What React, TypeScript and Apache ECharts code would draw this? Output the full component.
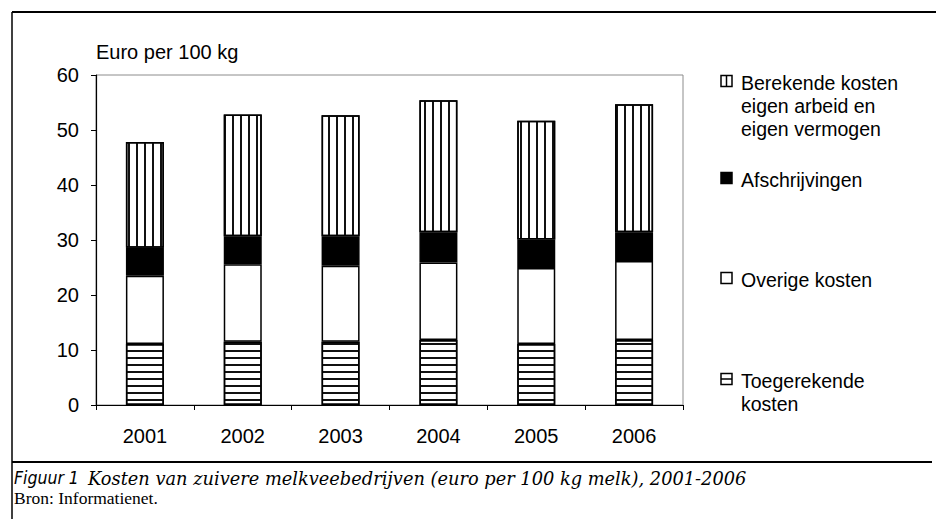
import React, { useEffect, useRef } from "react";
import * as echarts from "echarts";

const years = ["2001", "2002", "2003", "2004", "2005", "2006"];
const toegerekende = [11.1, 11.5, 11.5, 11.8, 11.1, 11.8];
const overige = [12.4, 14.1, 13.8, 14.1, 13.8, 14.4];
const afschrijvingen = [5.1, 5.1, 5.4, 5.5, 5.2, 5.2];
const berekende = [19.2, 22.1, 22.0, 24.0, 21.6, 23.3];

const yTicks = { min: 0, max: 60, interval: 10 };
const axisName = "Euro per 100 kg";
const legendLabels = [
  "Berekende kosten\neigen arbeid en\neigen vermogen",
  "Afschrijvingen",
  "Overige kosten",
  "Toegerekende\nkosten",
];
const seriesNames = ["Toegerekende kosten", "Overige kosten", "Afschrijvingen", "Berekende kosten eigen arbeid en eigen vermogen"];
const captionLabel = "Figuur 1";
const captionText = "Kosten van zuivere melkveebedrijven (euro per 100 kg melk), 2001-2006";
const sourceText = "Bron: Informatienet.";

const SANS = "'Liberation Sans', Arial, Helvetica, sans-serif";

export default function App() {
  const ref = useRef<HTMLDivElement>(null);

  useEffect(() => {
    document.body.style.margin = "0";
    if (!ref.current) return;
    const chart = echarts.init(ref.current, undefined, { renderer: "svg" });

    const border = { borderColor: "#000", borderWidth: 1.5 };
    const hStripes = {
      symbol: "rect",
      symbolSize: 1,
      dashArrayX: [1, 0],
      dashArrayY: [2, 5],
      rotation: 0,
      color: "#111",
    };
    const vStripes = {
      symbol: "rect",
      symbolSize: 1,
      dashArrayX: [2, 6],
      dashArrayY: [1, 0],
      rotation: 0,
      color: "#111",
    };

    const legendY = [83, 180, 280, 381];
    const graphic: any[] = [
      { type: "line", shape: { x1: 12, y1: 12, x2: 936, y2: 12 }, style: { stroke: "#000", lineWidth: 2 } },
      { type: "line", shape: { x1: 12, y1: 12, x2: 12, y2: 519 }, style: { stroke: "#000", lineWidth: 1.5 } },
      { type: "line", shape: { x1: 12, y1: 462, x2: 932, y2: 462 }, style: { stroke: "#000", lineWidth: 2 } },
    ];
    legendLabels.forEach((label, i) => {
      const cy = legendY[i];
      const x0 = 721, s = 11, y0 = cy - 2 - s / 2;
      graphic.push({
        type: "rect",
        shape: { x: x0, y: y0, width: s, height: s },
        style: { fill: i === 1 ? "#000" : "#fff", stroke: "#000", lineWidth: 1.5 },
      });
      if (i === 0) {
        graphic.push({ type: "line", shape: { x1: x0 + s / 2, y1: y0, x2: x0 + s / 2, y2: y0 + s }, style: { stroke: "#000", lineWidth: 1.5 } });
      }
      if (i === 3) {
        graphic.push({ type: "line", shape: { x1: x0, y1: y0 + s / 2, x2: x0 + s, y2: y0 + s / 2 }, style: { stroke: "#000", lineWidth: 1.5 } });
      }
      graphic.push({
        type: "text",
        x: 741,
        y: cy - 11.5,
        style: {
          text: label,
          fontSize: 19.5,
          fontFamily: SANS,
          fill: "#000",
          textAlign: "left",
          textVerticalAlign: "top",
          lineHeight: 23,
        },
      });
    });
    graphic.push({
      type: "text",
      x: 14,
      y: 478,
      style: {
        text: captionLabel,
        fontSize: 17.5,
        fontStyle: "italic",
        fontFamily: "'Liberation Sans Narrow', 'DejaVu Sans Condensed', 'Liberation Sans', sans-serif",
        fill: "#000",
        textAlign: "left",
        textVerticalAlign: "middle",
      },
    });
    graphic.push({
      type: "text",
      x: 88,
      y: 478,
      style: {
        text: captionText,
        fontSize: 17.8,
        fontStyle: "italic",
        fontFamily: "'DejaVu Serif', serif",
        fill: "#000",
        textAlign: "left",
        textVerticalAlign: "middle",
      },
    });
    graphic.push({
      type: "text",
      x: 14,
      y: 498,
      style: {
        text: sourceText,
        fontSize: 17.5,
        fontFamily: "'Liberation Serif', 'Times New Roman', serif",
        fill: "#000",
        textAlign: "left",
        textVerticalAlign: "middle",
      },
    });

    const mk = (name: string, data: number[], color: string, decal?: any) => ({
      name,
      type: "bar",
      stack: "total",
      data,
      barWidth: 38,
      itemStyle: { color, ...border, ...(decal ? { decal } : {}) },
      emphasis: { disabled: true },
    });

    chart.setOption({
      animation: false,
      backgroundColor: "#fff",
      textStyle: { fontFamily: SANS },
      grid: {
        left: 96,
        right: 253,
        top: 75,
        bottom: 114,
        containLabel: false,
        outerBoundsMode: "none",
        show: true,
        borderColor: "#8c8c8c",
        borderWidth: 1,
        backgroundColor: "transparent",
      },
      xAxis: {
        type: "category",
        data: years,
        boundaryGap: true,
        axisLine: { lineStyle: { color: "#000", width: 1.2 } },
        axisTick: { show: true, length: 5, alignWithLabel: false, lineStyle: { color: "#000" } },
        axisLabel: { color: "#000", fontSize: 20, fontFamily: SANS, margin: 21 },
        splitLine: { show: false },
      },
      yAxis: {
        type: "value",
        min: yTicks.min,
        max: yTicks.max,
        interval: yTicks.interval,
        name: axisName,
        nameLocation: "end",
        nameGap: 23,
        nameTextStyle: { color: "#000", fontSize: 20, fontFamily: SANS, align: "left", verticalAlign: "middle" },
        axisLine: { show: true, lineStyle: { color: "#000", width: 1.2 } },
        axisTick: { show: true, length: 5, lineStyle: { color: "#000" } },
        axisLabel: { color: "#000", fontSize: 20, fontFamily: SANS, margin: 17 },
        splitLine: { show: false },
      },
      series: [
        mk(seriesNames[0], toegerekende, "#fff", hStripes),
        mk(seriesNames[1], overige, "#fff"),
        mk(seriesNames[2], afschrijvingen, "#000"),
        mk(seriesNames[3], berekende, "#fff", vStripes),
      ],
      graphic,
    });

    return () => chart.dispose();
  }, []);

  return <div ref={ref} style={{ width: 936, height: 519 }} />;
}
